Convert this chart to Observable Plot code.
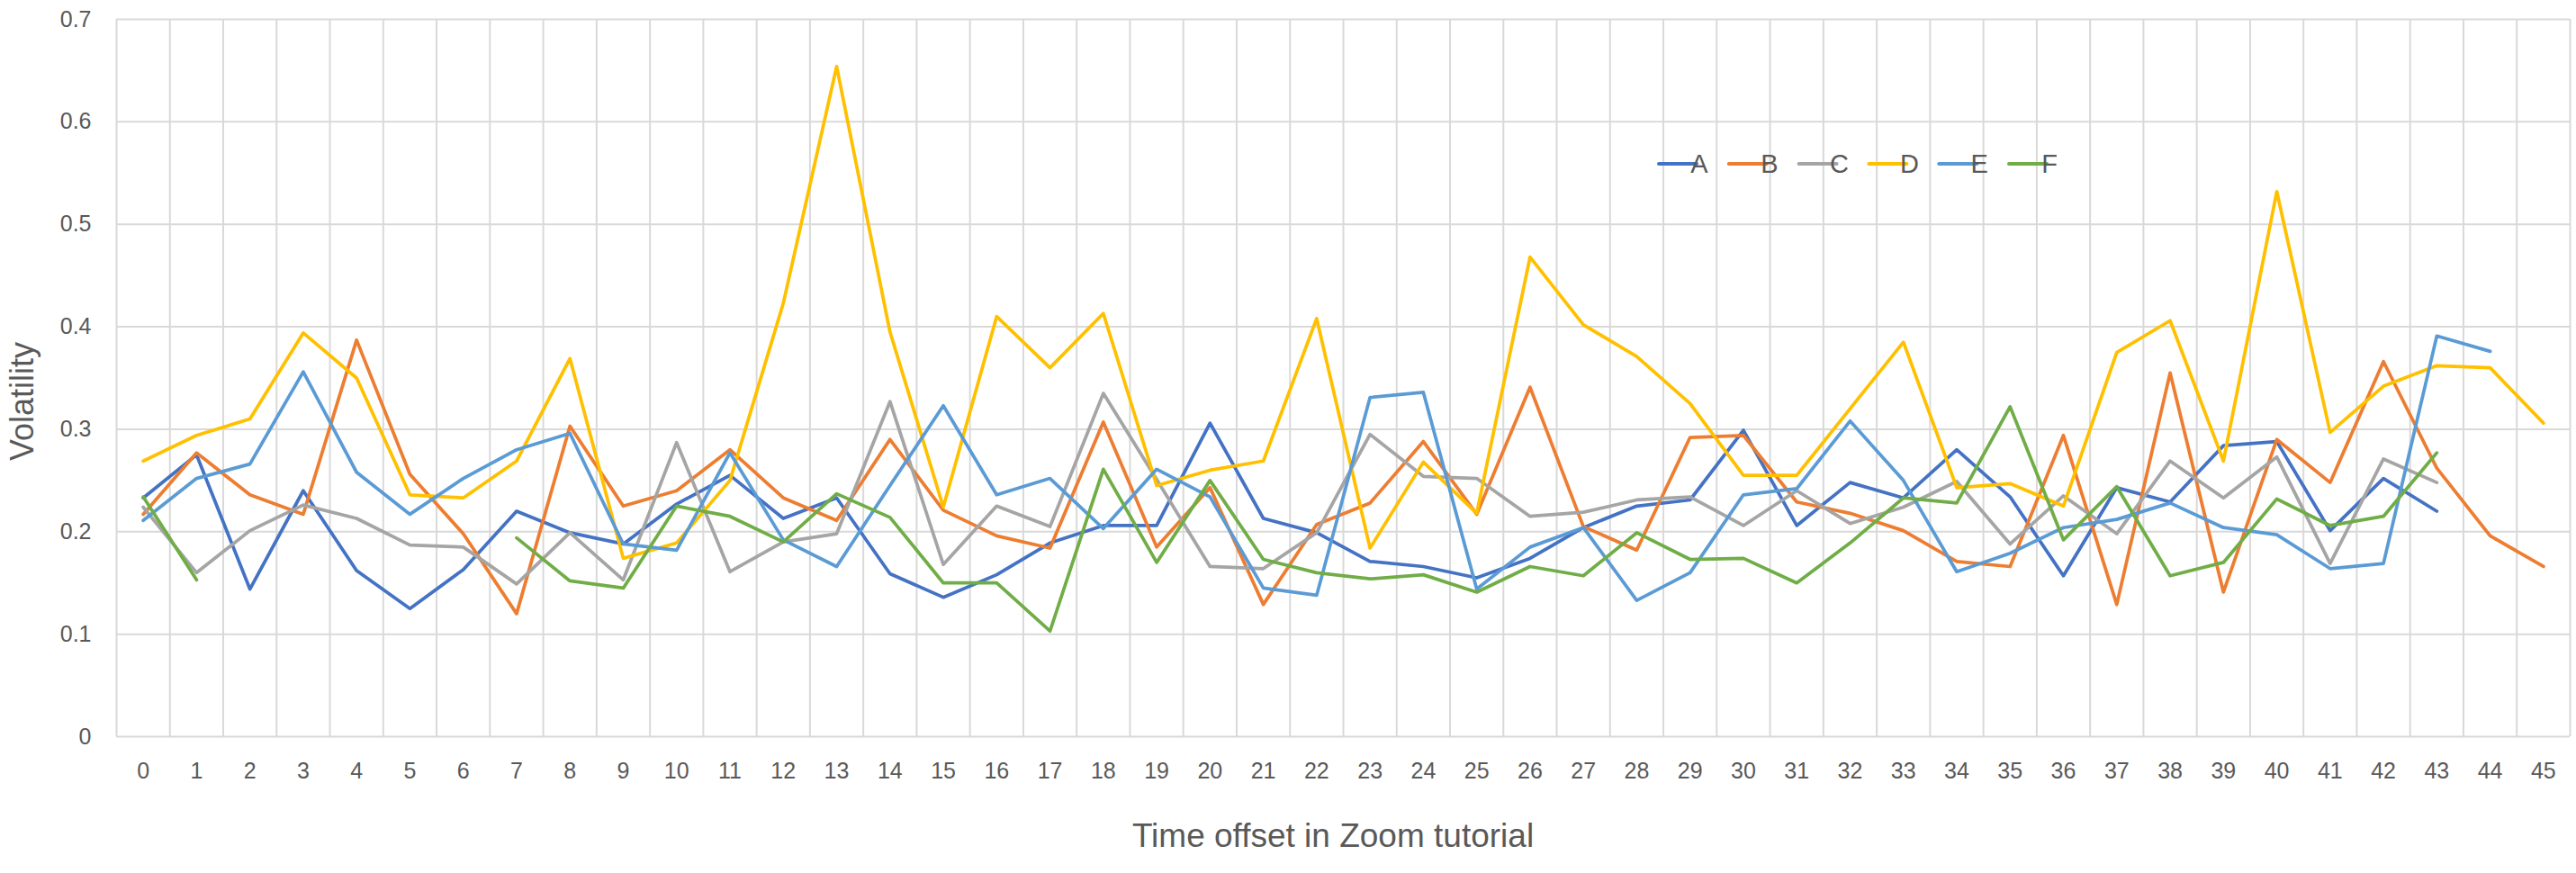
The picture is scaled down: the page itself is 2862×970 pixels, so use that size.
<!DOCTYPE html>
<html>
<head>
<meta charset="utf-8">
<script src="https://cdn.jsdelivr.net/npm/d3@7"></script>
<script src="https://cdn.jsdelivr.net/npm/@observablehq/plot@0.6"></script>
<style>
html, body { margin: 0; padding: 0; background: #fff; }
#wrap { position: relative; width: 2862px; height: 970px; }
</style>
</head>
<body>
<div id="wrap"></div>
<script>
// ---- data ----
const categories = [0,1,2,3,4,5,6,7,8,9,10,11,12,13,14,15,16,17,18,19,20,21,22,23,24,25,26,27,28,29,30,31,32,33,34,35,36,37,38,39,40,41,42,43,44,45];
const yTicks = [0, 0.1, 0.2, 0.3, 0.4, 0.5, 0.6, 0.7];
const seriesNames = ["A", "B", "C", "D", "E", "F"];
const seriesColors = ["#4472C4", "#ED7D31", "#A5A5A5", "#FFC000", "#5B9BD5", "#70AD47"];
const xTitle = "Time offset in Zoom tutorial";
const yTitle = "Volatility";

const A = [0.233, 0.275, 0.144, 0.240, 0.162, 0.125, 0.163, 0.220, 0.199, 0.188, 0.227, 0.255, 0.213, 0.233, 0.159, 0.136, 0.158, 0.189, 0.206, 0.206, 0.306, 0.213, 0.199, 0.171, 0.166, 0.155, 0.174, 0.204, 0.225, 0.231, 0.299, 0.206, 0.248, 0.233, 0.280, 0.234, 0.157, 0.243, 0.229, 0.284, 0.288, 0.201, 0.252, 0.220];
const B = [0.217, 0.277, 0.236, 0.217, 0.387, 0.256, 0.198, 0.120, 0.303, 0.225, 0.240, 0.280, 0.233, 0.211, 0.290, 0.221, 0.196, 0.184, 0.307, 0.185, 0.243, 0.129, 0.207, 0.228, 0.288, 0.217, 0.341, 0.205, 0.182, 0.292, 0.294, 0.229, 0.218, 0.201, 0.171, 0.166, 0.294, 0.129, 0.355, 0.141, 0.290, 0.248, 0.366, 0.262, 0.196, 0.166];
const C = [0.224, 0.160, 0.201, 0.226, 0.213, 0.187, 0.185, 0.149, 0.199, 0.153, 0.287, 0.161, 0.190, 0.198, 0.327, 0.168, 0.225, 0.205, 0.335, 0.251, 0.166, 0.164, 0.199, 0.295, 0.254, 0.252, 0.215, 0.219, 0.231, 0.234, 0.206, 0.240, 0.208, 0.224, 0.249, 0.188, 0.235, 0.198, 0.269, 0.233, 0.273, 0.169, 0.271, 0.248];
const D = [0.269, 0.294, 0.310, 0.394, 0.350, 0.236, 0.233, 0.269, 0.369, 0.174, 0.189, 0.250, 0.423, 0.654, 0.395, 0.224, 0.410, 0.360, 0.413, 0.245, 0.260, 0.269, 0.408, 0.184, 0.268, 0.218, 0.468, 0.402, 0.371, 0.325, 0.255, 0.255, 0.320, 0.385, 0.243, 0.247, 0.225, 0.375, 0.406, 0.269, 0.532, 0.297, 0.342, 0.362, 0.360, 0.306];
const E = [0.211, 0.252, 0.266, 0.356, 0.258, 0.217, 0.252, 0.280, 0.296, 0.188, 0.182, 0.277, 0.192, 0.166, 0.245, 0.323, 0.236, 0.252, 0.203, 0.261, 0.234, 0.145, 0.138, 0.331, 0.336, 0.144, 0.185, 0.204, 0.133, 0.160, 0.236, 0.242, 0.308, 0.250, 0.161, 0.179, 0.204, 0.212, 0.228, 0.204, 0.197, 0.164, 0.169, 0.391, 0.376];
const F = [0.234, 0.153, null, null, null, null, null, 0.194, 0.152, 0.145, 0.225, 0.215, 0.190, 0.237, 0.214, 0.150, 0.150, 0.103, 0.261, 0.170, 0.250, 0.173, 0.160, 0.154, 0.158, 0.141, 0.166, 0.157, 0.199, 0.173, 0.174, 0.150, 0.189, 0.233, 0.228, 0.322, 0.192, 0.244, 0.157, 0.170, 0.232, 0.206, 0.215, 0.277];

const seriesValues = [A, B, C, D, E, F];

// ---- derived tables ----
const rows = seriesNames.map((name, s) =>
  categories.map((c, i) => {
    const v = seriesValues[s][i];
    return { series: name, t: c, v: (v === null || v === undefined) ? NaN : v };
  })
);
const boundaries = categories.map(c => c - 0.5).concat([categories[categories.length - 1] + 0.5]);

const FONT = '"Liberation Sans", Arial, sans-serif';
const TEXT = "#595959";
const GRID = "#d9d9d9";

const W = 2862, H = 970;
const mL = 129, mR = 7, mT = 21, mB = 152;

const chart = Plot.plot({
  width: W,
  height: H,
  marginLeft: mL,
  marginRight: mR,
  marginTop: mT,
  marginBottom: mB,
  style: { fontFamily: FONT, color: TEXT, background: "#fff", overflow: "visible" },
  x: { type: "linear", domain: [boundaries[0], boundaries[boundaries.length - 1]] },
  y: { domain: [yTicks[0], yTicks[yTicks.length - 1]] },
  marks: [
    Plot.ruleX(boundaries, { stroke: GRID, strokeWidth: 2 }),
    Plot.ruleY(yTicks, { stroke: GRID, strokeWidth: 2 }),
    ...rows.map((data, s) => Plot.line(data, {
      x: "t", y: "v",
      stroke: seriesColors[s],
      strokeWidth: 3.75,
      strokeLinejoin: "round",
      strokeLinecap: "round"
    })),
    Plot.axisX(categories, {
      tickSize: 0, tickPadding: 29, fontSize: 25, fill: TEXT,
      tickFormat: d => String(d), label: null
    }),
    Plot.axisY(yTicks, {
      tickSize: 0, tickPadding: 28, fontSize: 25, fill: TEXT,
      tickFormat: d => String(+d.toFixed(1)), label: null
    })
  ]
});

document.getElementById("wrap").appendChild(chart);

// ---- titles and legend (layout text) ----
const svg = d3.select(chart);

svg.append("text")
  .attr("x", (mL + (W - mR)) / 2 - 11)
  .attr("y", 941)
  .attr("text-anchor", "middle")
  .attr("font-family", FONT)
  .attr("font-size", 37)
  .attr("fill", TEXT)
  .text(xTitle);

svg.append("text")
  .attr("transform", "translate(37,446) rotate(-90)")
  .attr("text-anchor", "middle")
  .attr("font-family", FONT)
  .attr("font-size", 36)
  .attr("fill", TEXT)
  .text(yTitle);

const legend = svg.append("g").attr("transform", "translate(1843,182)");
seriesNames.forEach((name, i) => {
  const g = legend.append("g").attr("transform", `translate(${i * 77.8},0)`);
  g.append("line")
    .attr("x1", 0).attr("x2", 42).attr("y1", 0).attr("y2", 0)
    .attr("stroke", seriesColors[i]).attr("stroke-width", 4).attr("stroke-linecap", "round");
  g.append("text")
    .attr("x", 45).attr("y", 9.5)
    .attr("font-family", FONT).attr("font-size", 29).attr("fill", TEXT)
    .text(name);
});
</script>
</body>
</html>
